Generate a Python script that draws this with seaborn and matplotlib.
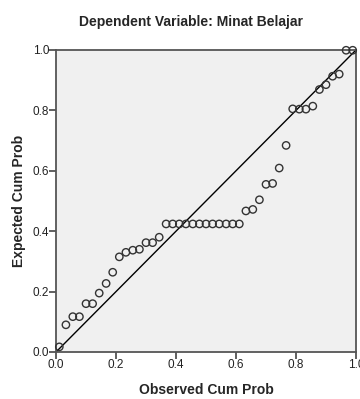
import numpy as np
import pandas as pd
from matplotlib import pyplot as plt
import seaborn as sns

# observed vs expected cumulative probabilities
observed = [0.011, 0.033, 0.056, 0.078, 0.100, 0.122, 0.144, 0.167, 0.189, 0.211,
            0.233, 0.256, 0.278, 0.300, 0.322, 0.344, 0.367, 0.389, 0.411, 0.433,
            0.456, 0.478, 0.500, 0.522, 0.544, 0.567, 0.589, 0.611, 0.633, 0.656,
            0.678, 0.700, 0.722, 0.744, 0.767, 0.789, 0.811, 0.833, 0.856, 0.878,
            0.900, 0.922, 0.944, 0.967, 0.989]
expected = [0.017, 0.090, 0.117, 0.117, 0.160, 0.160, 0.195, 0.227, 0.264, 0.315,
            0.330, 0.337, 0.340, 0.362, 0.362, 0.380, 0.424, 0.424, 0.424, 0.424,
            0.424, 0.424, 0.424, 0.424, 0.424, 0.424, 0.424, 0.424, 0.467, 0.472,
            0.504, 0.555, 0.558, 0.609, 0.684, 0.805, 0.804, 0.804, 0.814, 0.869,
            0.885, 0.913, 0.920, 0.999, 0.999]
ticks = [0.0, 0.2, 0.4, 0.6, 0.8, 1.0]

df = pd.DataFrame({'Observed': observed, 'Expected': expected})

sns.set_style('white')
plt.rcParams['font.family'] = ['Liberation Sans', 'DejaVu Sans']

fig = plt.figure(figsize=(3.6, 3.99), dpi=100)
ax = fig.add_axes([0.1556, 0.1178, 0.8333, 0.757])
ax.set_facecolor('#F0F0F0')

ax.plot([0, 1], [0, 1], color='black', linewidth=1.0, zorder=2)
sns.scatterplot(data=df, x='Observed', y='Expected', ax=ax, s=28,
                facecolor='none', edgecolor='#333333', linewidth=1.0, zorder=3,
                clip_on=False)

ax.set_xlim(0, 1)
ax.set_ylim(0, 1)
ax.set_xticks(ticks)
ax.set_yticks(ticks)
ax.set_xticklabels([f'{t:.1f}' for t in ticks])
ax.set_yticklabels([f'{t:.1f}' for t in ticks])
ax.tick_params(axis='both', direction='out', length=5, width=1.2, color='#444444',
               labelsize=8.5, labelcolor='#222222', pad=0,
               bottom=True, left=True)
for side in ['top', 'right', 'left', 'bottom']:
    ax.spines[side].set_color('#555555')
    ax.spines[side].set_linewidth(1.3)

ax.set_xlabel('Observed Cum Prob', fontsize=10, fontweight='bold', labelpad=9)
ax.set_ylabel('Expected Cum Prob', fontsize=10, fontweight='bold', labelpad=5)
fig.text(0.53, 0.945, 'Dependent Variable: Minat Belajar', fontsize=10,
         fontweight='bold', ha='center', va='center')

fig.savefig('out.png', dpi=100)
